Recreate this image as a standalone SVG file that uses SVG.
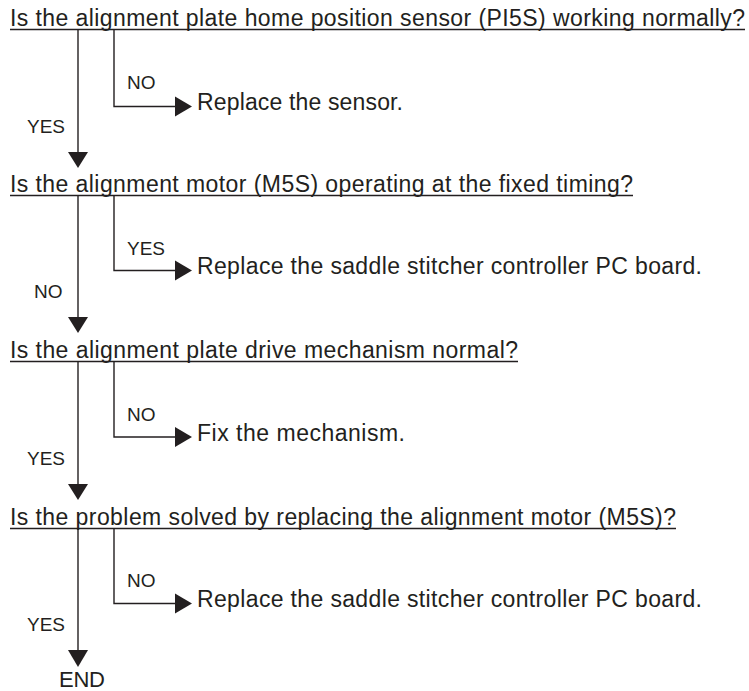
<svg xmlns="http://www.w3.org/2000/svg" width="749" height="691" viewBox="0 0 749 691">
<style>
text{font-family:"Liberation Sans",Arial,Helvetica,sans-serif;fill:#231f20}
.q{font-size:23px}
.a{font-size:23px}
.l{font-size:19px}
.e{font-size:22px}
.u{stroke:#231f20;stroke-width:1.4;fill:none}
.c{stroke:#231f20;stroke-width:1.4;fill:none}
.h{fill:#231f20;stroke:none}
</style>
<rect width="749" height="691" fill="#fff"/>
<g id="q1">
<text class="q" x="10" y="26" textLength="735">Is the alignment plate home position sensor (PI5S) working normally?</text>
<line class="u" x1="10" y1="29.5" x2="745" y2="29.5"/>
</g>
<g id="a1"><text class="a" x="197" y="110" textLength="206">Replace the sensor.</text></g>
<g id="q2">
<text class="q" x="10" y="192" textLength="623">Is the alignment motor (M5S) operating at the fixed timing?</text>
<line class="u" x1="10" y1="195.5" x2="633" y2="195.5"/>
</g>
<g id="a2"><text class="a" x="197" y="274" textLength="505">Replace the saddle stitcher controller PC board.</text></g>
<g id="q3">
<text class="q" x="10" y="358" textLength="508">Is the alignment plate drive mechanism normal?</text>
<line class="u" x1="10" y1="361.5" x2="518" y2="361.5"/>
</g>
<g id="a3"><text class="a" x="197" y="441" textLength="208">Fix the mechanism.</text></g>
<g id="q4">
<text class="q" x="10" y="525" textLength="666">Is the problem solved by replacing the alignment motor (M5S)?</text>
<line class="u" x1="10" y1="528.5" x2="676" y2="528.5"/>
</g>
<g id="a4"><text class="a" x="197" y="607" textLength="505">Replace the saddle stitcher controller PC board.</text></g>
<g id="end"><text class="e" x="59" y="687" textLength="46">END</text></g>
<g id="connectors">
<path class="c" d="M78 29.5V153"/>
<polygon class="h" points="68,152 88,152 78,168"/>
<path class="c" d="M114 29.5V106.5H176"/>
<polygon class="h" points="175,96.5 175,116.5 192,106.5"/>
<text class="l" x="127" y="89">NO</text>
<text class="l" x="27" y="133">YES</text>
<path class="c" d="M78 195.5V318"/>
<polygon class="h" points="68,317 88,317 78,333"/>
<path class="c" d="M114 195.5V270.5H176"/>
<polygon class="h" points="175,260.5 175,280.5 192,270.5"/>
<text class="l" x="127" y="255">YES</text>
<text class="l" x="34" y="298">NO</text>
<path class="c" d="M78 361.5V485"/>
<polygon class="h" points="68,484 88,484 78,500"/>
<path class="c" d="M114 361.5V437H176"/>
<polygon class="h" points="175,427 175,447 192,437"/>
<text class="l" x="127" y="421">NO</text>
<text class="l" x="27" y="465">YES</text>
<path class="c" d="M78 528.5V651"/>
<polygon class="h" points="68,650 88,650 78,667"/>
<path class="c" d="M114 528.5V603.5H176"/>
<polygon class="h" points="175,593.5 175,613.5 192,603.5"/>
<text class="l" x="127" y="587">NO</text>
<text class="l" x="27" y="631">YES</text>
</g>
</svg>
